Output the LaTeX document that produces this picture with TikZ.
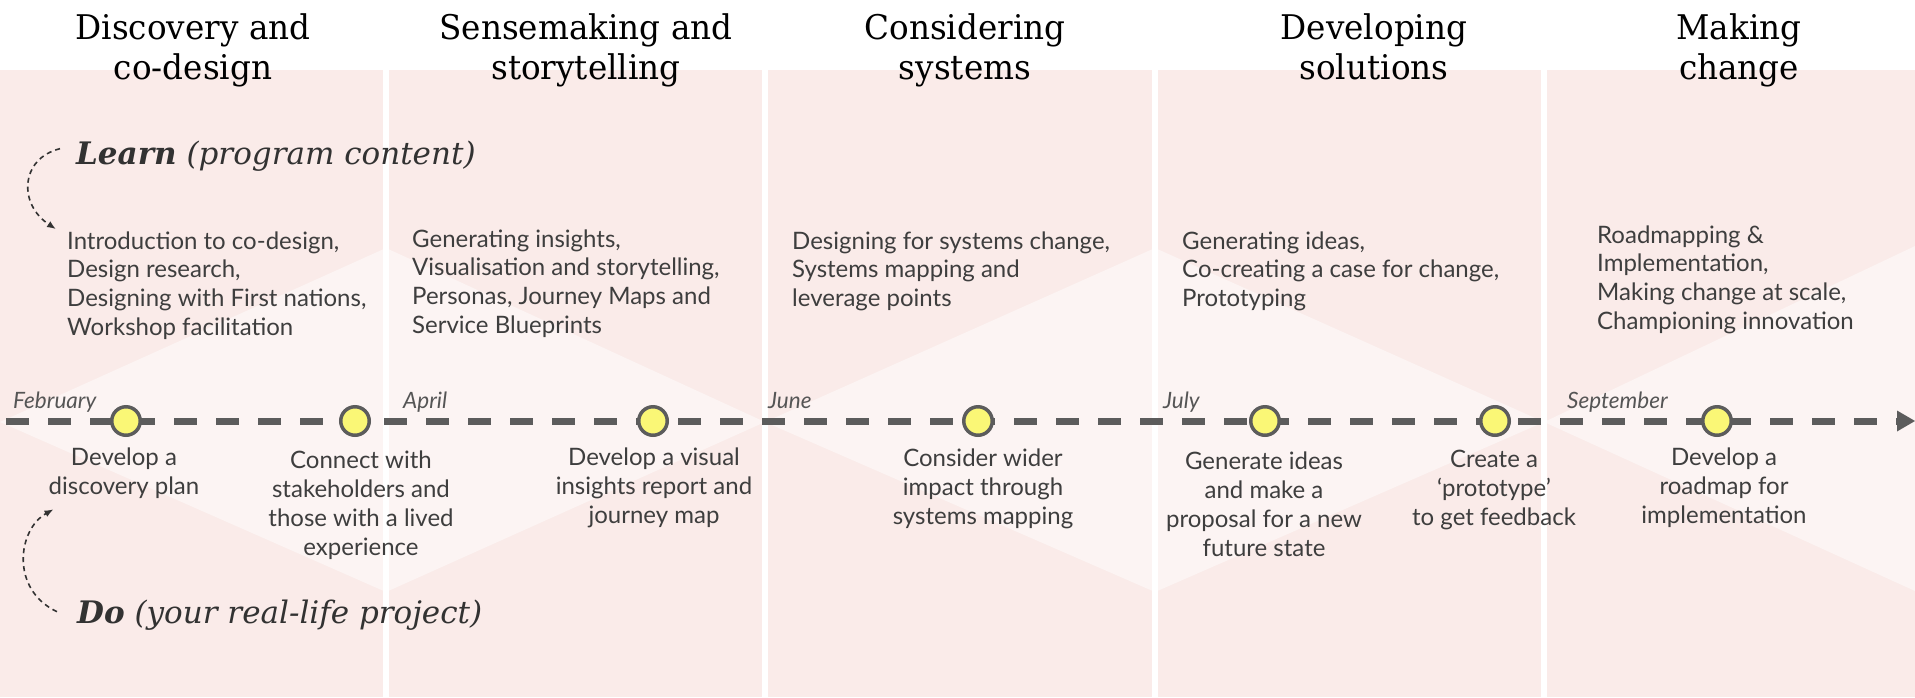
\documentclass[tikz,border=0pt]{standalone}
\usepackage{fontspec}
\usetikzlibrary{arrows.meta}
\setmainfont{Lato}
\newfontfamily\hdrfont[FakeStretch=0.96]{DejaVu Serif}
\newfontfamily\slabfont{DejaVu Serif}
\definecolor{pinkbg}{RGB}{250,235,233}
\definecolor{lightbg}{RGB}{252,244,243}
\definecolor{linegray}{RGB}{92,92,92}
\definecolor{txtgray}{RGB}{62,62,62}
\definecolor{monthgray}{RGB}{85,85,85}
\definecolor{dotyellow}{RGB}{250,247,118}
\definecolor{arrowgray}{RGB}{50,50,50}
\newcommand{\lblk}[2]{\vtop{\baselineskip=#1\halign{##\hfil\cr#2\crcr}}}
\newcommand{\cblk}[2]{\vtop{\baselineskip=#1\halign{\hfil##\hfil\cr#2\crcr}}}
\tikzset{
  hdr/.style={anchor=base, inner sep=0pt, text=black,
    font=\hdrfont\fontsize{34}{40}\selectfont},
  learnblock/.style={anchor=base west, inner sep=0pt, text=txtgray,
    font=\fontsize{24}{29}\selectfont},
  doblock/.style={anchor=base, inner sep=0pt, text=txtgray,
    font=\fontsize{24}{29}\selectfont},
  month/.style={anchor=base west, inner sep=0pt, text=monthgray,
    font=\itshape\fontsize{22.5}{26}\selectfont},
  tag/.style={anchor=base west, inner sep=0pt, text=arrowgray,
    font=\slabfont\fontsize{31}{36}\selectfont},
  milestone/.style={circle, draw=linegray, line width=3.5pt, fill=dotyellow,
    minimum size=28.5pt, inner sep=0pt},
  timeline/.style={draw=linegray, line width=7pt, dash pattern=on 23pt off 19pt,
    -{Triangle[length=18pt,width=21pt,line width=0pt]}},
  bendarrow/.style={draw=arrowgray, line width=1.6pt, dash pattern=on 5pt off 4pt,
    -{Latex[length=9pt,width=7pt]}},
}
\begin{document}
\begin{tikzpicture}[x=1pt,y=-1pt]
\useasboundingbox (0,0) rectangle (1915,697);
\fill[white] (0,0) rectangle (1915,697);
% background
\fill[pinkbg] (0,70) rectangle (1915,697);
\fill[lightbg] (0,422) -- (386,248) -- (765,422) -- (386,592) -- cycle;
\fill[lightbg] (765,422) -- (1155,248) -- (1544,422) -- (1155,592) -- cycle;
\fill[lightbg] (1544,422) -- (1915,246) -- (1915,591) -- cycle;
\fill[white] (383,70) rectangle (389,697);
\fill[white] (762,70) rectangle (768,697);
\fill[white] (1152,70) rectangle (1158,697);
\fill[white] (1541,70) rectangle (1547,697);
% headers
\node[hdr] (h1) at (193,39) {\cblk{40pt}{Discovery and\cr co-design}};
\node[hdr] (h2) at (586,39) {\cblk{40pt}{Sensemaking and\cr storytelling}};
\node[hdr] (h3) at (965,39) {\cblk{40pt}{Considering\cr systems}};
\node[hdr] (h4) at (1374,39) {\cblk{40pt}{Developing\cr solutions}};
\node[hdr] (h5) at (1739,39) {\cblk{40pt}{Making\cr change}};
% learn / do labels
\node[tag] (learn) at (76,164) {\textbf{\textit{Learn}} \textit{(program content)}};
\node[tag] (do) at (77,623) {\textbf{\textit{Do}} \textit{(your real-life project)}};
% learn blocks
\node[learnblock] (b1) at (67,249) {\lblk{28.8pt}{Introduction to co-design,\cr Design research,\cr Designing with First nations,\cr Workshop facilitation}};
\node[learnblock] (b2) at (412,247) {\lblk{28.8pt}{Generating insights,\cr Visualisation and storytelling,\cr Personas, Journey Maps and\cr Service Blueprints}};
\node[learnblock] (b3) at (792,249) {\lblk{28.8pt}{Designing for systems change,\cr Systems mapping and\cr leverage points}};
\node[learnblock] (b4) at (1182,249) {\lblk{28.8pt}{Generating ideas,\cr Co-creating a case for change,\cr Prototyping}};
\node[learnblock] (b5) at (1597,243) {\lblk{28.8pt}{Roadmapping \&\cr Implementation,\cr Making change at scale,\cr Championing innovation}};
% timeline
\coordinate (tstart) at (6,421);
\coordinate (tend) at (1915,421);
\draw[timeline] (tstart) -- (tend);
% months
\node[month] (feb) at (13,408) {February};
\node[month] (apr) at (403,408) {April};
\node[month] (jun) at (768,408) {June};
\node[month] (jul) at (1163,408) {July};
\node[month] (sep) at (1567,408) {September};
% milestones
\node[milestone] (m1) at (126,421) {};
\node[milestone] (m2) at (355,421) {};
\node[milestone] (m3) at (653,421) {};
\node[milestone] (m4) at (978,421) {};
\node[milestone] (m5) at (1265,421) {};
\node[milestone] (m6) at (1495,421) {};
\node[milestone] (m7) at (1717,421) {};
% do blocks
\node[doblock] (d1) at (124,465) {\cblk{29pt}{Develop a\cr discovery plan}};
\node[doblock] (d2) at (361,468) {\cblk{29pt}{Connect with\cr stakeholders and\cr those with a lived\cr experience}};
\node[doblock] (d3) at (654,465) {\cblk{29pt}{Develop a visual\cr insights report and\cr journey map}};
\node[doblock] (d4) at (983,466) {\cblk{29pt}{Consider wider\cr impact through\cr systems mapping}};
\node[doblock] (d5) at (1264,469) {\cblk{29pt}{Generate ideas\cr and make a\cr proposal for a new\cr future state}};
\node[doblock] (d6) at (1494,467) {\cblk{29pt}{Create a\cr ‘prototype’\cr to get feedback}};
\node[doblock] (d7) at (1724,465) {\cblk{29pt}{Develop a\cr roadmap for\cr implementation}};
% curved arrows
\draw[bendarrow] ([shift={(-16,-7)}]learn.west) .. controls +(-40,10) and +(-38,-25) .. ([shift={(-11,-2)}]b1.north west);
\draw[bendarrow] ([shift={(-20,-3)}]do.west) .. controls +(-47,-22) and +(-36,20) .. ([shift={(5,11)}]d1.south west);
\end{tikzpicture}
\end{document}
